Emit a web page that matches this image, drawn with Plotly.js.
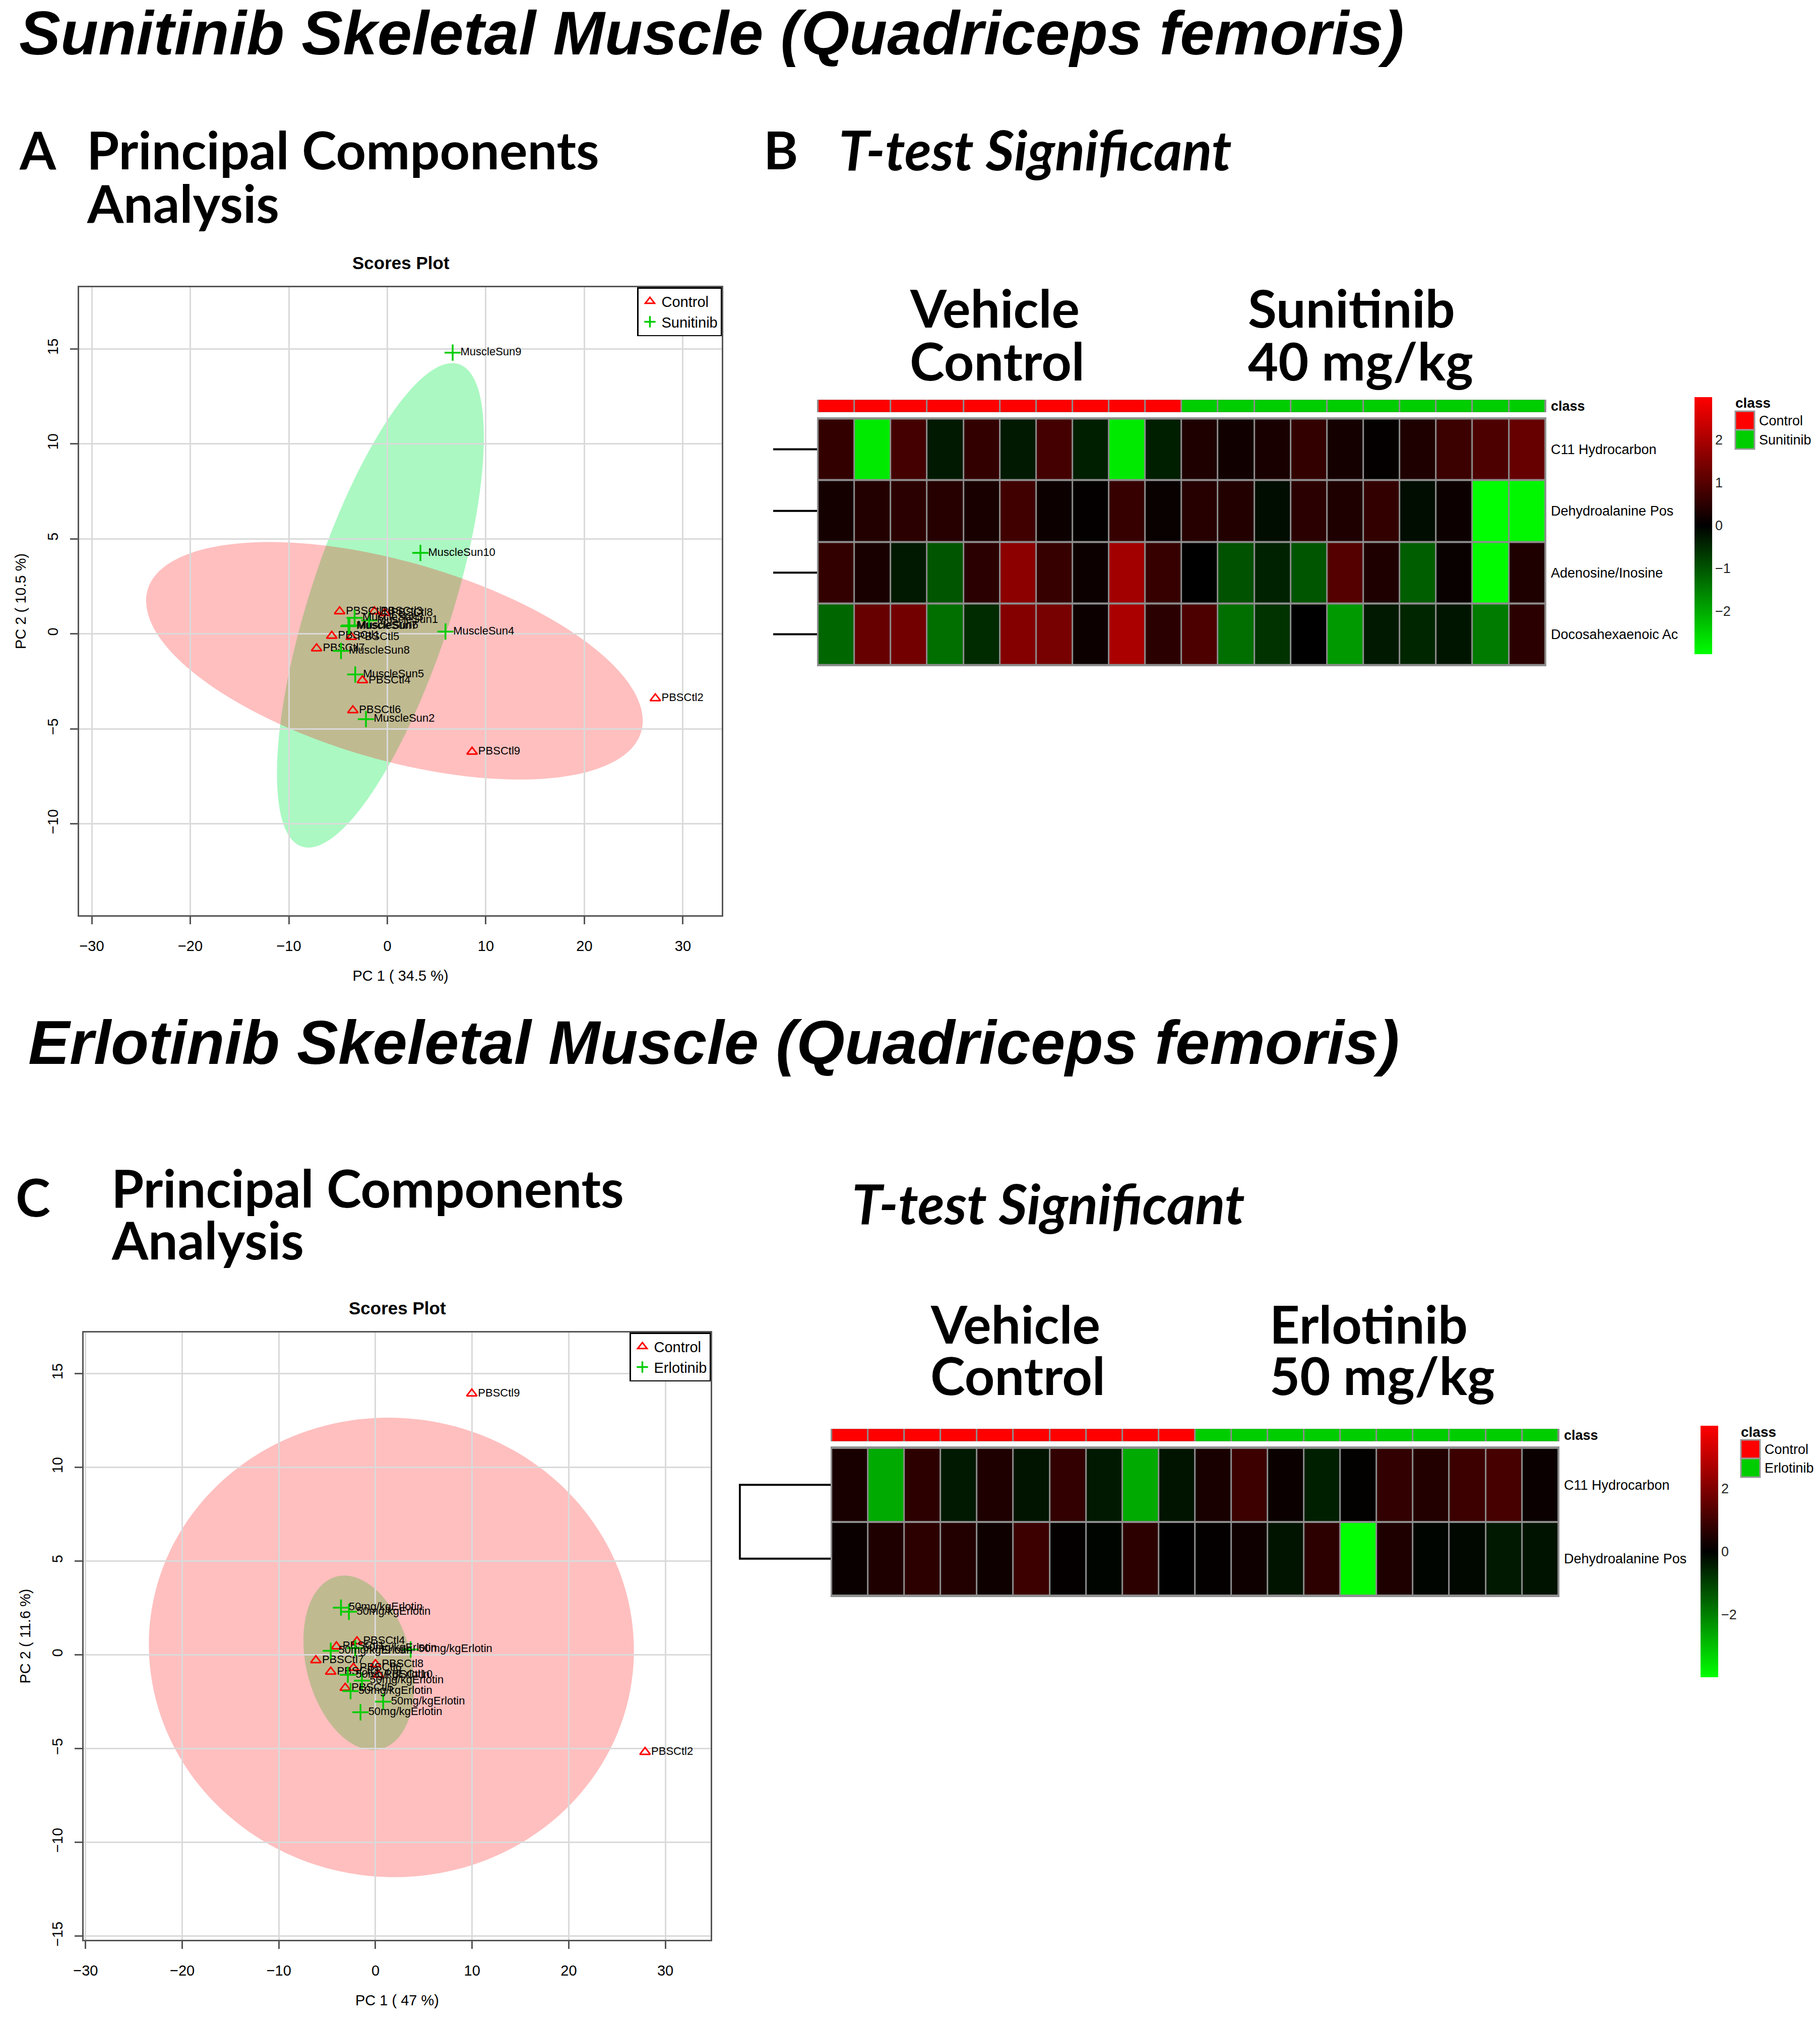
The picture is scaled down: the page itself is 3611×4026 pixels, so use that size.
<!DOCTYPE html>
<html><head><meta charset="utf-8">
<script src="https://cdn.plot.ly/plotly-3.0.1.min.js"></script>
<style>html,body{margin:0;padding:0;background:#fff}</style>
</head><body>
<div id="chart" style="width:3611px;height:4026px"></div>
<script>
// ---------------- DATA ----------------
// Panel A: Sunitinib PCA scores
const sunCtlNames = ['PBSCtl1','PBSCtl2','PBSCtl3','PBSCtl4','PBSCtl5','PBSCtl6','PBSCtl7','PBSCtl8','PBSCtl9','PBSCtl10'];
const sunCtlPC1 = [-5.64, 27.2, -1.31, -2.53, -3.66, -3.5, -7.18, -0.26, 8.6, -4.84];
const sunCtlPC2 = [-0.11, -3.4, 1.18, -2.45, -0.17, -4.03, -0.77, 1.09, -6.21, 1.18];
const sunTrtNames = ['MuscleSun1','MuscleSun2','MuscleSun3','MuscleSun4','MuscleSun5','MuscleSun6','MuscleSun7','MuscleSun8','MuscleSun9','MuscleSun10'];
const sunTrtPC1 = [-1.83, -2.17, -3.32, 5.9, -3.26, -3.84, -3.95, -4.7, 6.63, 3.36];
const sunTrtPC2 = [0.71, -4.49, 0.84, 0.12, -2.14, 0.44, 0.40, -0.9, 14.8, 4.26];
// confidence ellipses: [centerPC1, centerPC2, halfWidthPC1, halfHeightPC2, PC2 offset of rightmost point]
const sunEllipseCtl = [0.72, -1.42, 25.2, 6.25, -3.15];
const sunEllipseTrt = [-0.7, 1.5, 10.5, 12.75, 8.86];
const sunAxisTitles = ['PC 1 ( 34.5 %)', 'PC 2 ( 10.5 %)'];

// Panel C: Erlotinib PCA scores
const erlCtlNames = ['PBSCtl1','PBSCtl2','PBSCtl3','PBSCtl4','PBSCtl5','PBSCtl6','PBSCtl7','PBSCtl8','PBSCtl9','PBSCtl10'];
const erlCtlPC1 = [-4.04, 27.9, -4.63, -1.92, -3.13, -2.28, -6.17, 0.0, 9.97, 0.3];
const erlCtlPC2 = [0.45, -5.18, -0.9, 0.72, -1.76, -0.69, -0.29, -0.5, 13.93, -1.06];
const erlTrtNames = ['50mg/kgErlotin','50mg/kgErlotin','50mg/kgErlotin','50mg/kgErlotin','50mg/kgErlotin','50mg/kgErlotin','50mg/kgErlotin','50mg/kgErlotin','50mg/kgErlotin','50mg/kgErlotin'];
const erlTrtPC1 = [-3.57, -2.75, -4.63, -2.1, 3.64, -2.86, -1.4, -2.58, 0.8, -1.55];
const erlTrtPC2 = [2.52, 2.3, 0.22, 0.36, 0.29, -1.06, -1.37, -1.93, -2.49, -3.06];
const erlEllipseCtl = [1.65, 0.4, 25.1, 12.25, -0.15];
const erlEllipseTrt = [-1.73, -0.42, 5.73, 4.65, -1.2];
const erlAxisTitles = ['PC 1 ( 47 %)', 'PC 2 ( 11.6 %)'];

const pcaXTicks = [-30, -20, -10, 0, 10, 20, 30];
const sunYTicks = [-10, -5, 0, 5, 10, 15];
const erlYTicks = [-15, -10, -5, 0, 5, 10, 15];

// Panel B: Sunitinib heatmap (z-scores)
const sunClasses = ['Control','Control','Control','Control','Control','Control','Control','Control','Control','Control',
  'Sunitinib','Sunitinib','Sunitinib','Sunitinib','Sunitinib','Sunitinib','Sunitinib','Sunitinib','Sunitinib','Sunitinib'];
const sunMetabolites = ['C11 Hydrocarbon','Dehydroalanine Pos','Adenosine/Inosine','Docosahexaenoic Ac'];
const sunC11 = [0.6,-2.75,0.8,-0.3,0.6,-0.3,0.8,-0.35,-2.75,-0.35,0.35,0.2,0.3,0.6,0.25,0.05,0.35,0.7,0.9,1.2];
const sunDehydro = [0.25,0.4,0.5,0.45,0.3,0.75,0.15,0.05,0.65,0.1,0.45,0.4,-0.15,0.5,0.35,0.6,-0.15,0.15,-3.0,-2.9];
const sunAdeno = [0.6,0.3,-0.3,-1.0,0.5,1.65,0.65,0.15,1.9,0.65,0,-0.95,-0.4,-1.0,1.0,0.35,-1.1,0.1,-2.95,0.35];
const sunDHA = [-1.2,1.2,1.35,-1.3,-0.5,1.55,1.4,0.15,2.0,0.5,0.9,-1.3,-0.6,0,-1.8,-0.3,-0.45,-0.25,-1.45,0.5];
const sunScaleTicks = [-2, -1, 0, 1, 2];

// Panel D: Erlotinib heatmap (z-scores)
const erlClasses = ['Control','Control','Control','Control','Control','Control','Control','Control','Control','Control',
  'Erlotinib','Erlotinib','Erlotinib','Erlotinib','Erlotinib','Erlotinib','Erlotinib','Erlotinib','Erlotinib','Erlotinib'];
const erlMetabolites = ['C11 Hydrocarbon','Dehydroalanine Pos'];
const erlC11 = [0.39,-2.67,0.71,-0.39,0.47,-0.31,0.78,-0.39,-2.67,-0.31,0.39,0.94,0.16,-0.47,0.05,0.78,0.55,0.94,1.1,0.16];
const erlDehydro = [0.16,0.47,0.7,0.55,0.24,0.94,0.08,-0.08,0.7,0,0.08,0.24,-0.31,0.7,-4.0,0.47,-0.08,-0.12,-0.4,-0.3];
const erlScaleTicks = [-2, 0, 2];

// Row dendrograms: leaf rows and merge height (relative)
const sunDendroLeaves = [0, 1, 2, 3];
const erlDendroLeaves = [0, 1];
const erlDendroHeight = 1;

// ---------------- HELPERS ----------------
const W = 3611, H = 4026;
const fx = p => p / W;
const fy = p => 1 - p / H;
const FONT = 'Liberation Sans, Arial, Helvetica, sans-serif';
const CAL = 'Lato, Carlito, Calibri, sans-serif';
const RED = '#FF0000', GREEN = '#00CC00', CLASSGREEN = '#00CD00';

function ellipsePath(e) {
  const [cx, cy, rx, ry, dy] = e;
  const s = Math.sqrt(ry * ry - dy * dy);
  const k = 0.5523;
  const unit = [[1,0],[1,k],[k,1],[0,1],[-k,1],[-1,k],[-1,0],[-1,-k],[-k,-1],[0,-1],[k,-1],[1,-k],[1,0]];
  const m = unit.map(([u, v]) => [cx + rx * u, cy + dy * u + s * v]);
  let p = 'M' + m[0][0] + ',' + m[0][1];
  for (let i = 1; i < m.length; i += 3)
    p += ' C' + m[i].join(',') + ' ' + m[i+1].join(',') + ' ' + m[i+2].join(',');
  return p + ' Z';
}

function scoreTraces(ctlX, ctlY, ctlN, trtX, trtY, trtN, trtName, xa, ya, leg) {
  const tf = {family: FONT, size: 22, color: '#000'};
  return [
    {type: 'scatter', mode: 'markers+text', x: ctlX, y: ctlY, text: ctlN, textposition: 'middle right',
     textfont: tf, name: 'Control', xaxis: xa, yaxis: ya, legend: leg, cliponaxis: false,
     marker: {symbol: 'triangle-up-open', size: 18, color: RED, line: {width: 3, color: RED}}},
    {type: 'scatter', mode: 'markers+text', x: trtX, y: trtY, text: trtN, textposition: 'middle right',
     textfont: tf, name: trtName, xaxis: xa, yaxis: ya, legend: leg, cliponaxis: false,
     marker: {symbol: 'cross-thin-open', size: 23, color: GREEN, line: {width: 3.5, color: GREEN}}}
  ];
}

const heatScale = [[0, 'rgb(0,255,0)'], [0.5, 'rgb(0,0,0)'], [1, 'rgb(255,0,0)']];
const classScale = [[0, RED], [0.5, RED], [0.5, CLASSGREEN], [1, CLASSGREEN]];

function classTrace(classes, xa, ya) {
  return {type: 'heatmap', z: [classes.map(c => c === 'Control' ? 0 : 1)], x: classes.map((c, i) => i), y: [0],
    colorscale: classScale, zmin: 0, zmax: 1, showscale: false, xgap: 3, ygap: 0, xaxis: xa, yaxis: ya, hoverinfo: 'skip'};
}

function heatTrace(rows, lim, ticks, xa, ya, cbx, cby, cblen) {
  return {type: 'heatmap', z: rows, x: rows[0].map((v, i) => i), y: rows.map((r, i) => i),
    colorscale: heatScale, zmin: -lim, zmax: lim, xgap: 3, ygap: 4, xaxis: xa, yaxis: ya, hoverinfo: 'skip',
    colorbar: {x: fx(cbx), xanchor: 'left', xref: 'paper', y: fy(cby), yanchor: 'top', yref: 'paper',
      len: cblen, lenmode: 'pixels', thickness: 35, thicknessmode: 'pixels', xpad: 0, ypad: 0,
      outlinewidth: 0, tickvals: ticks, ticks: '', tickfont: {family: FONT, size: 27, color: '#222'}}};
}

// ---------------- TRACES ----------------
const traces = [
  ...scoreTraces(sunCtlPC1, sunCtlPC2, sunCtlNames, sunTrtPC1, sunTrtPC2, sunTrtNames, 'Sunitinib', 'x', 'y', 'legend'),
  ...scoreTraces(erlCtlPC1, erlCtlPC2, erlCtlNames, erlTrtPC1, erlTrtPC2, erlTrtNames, 'Erlotinib', 'x4', 'y4', 'legend2'),
  classTrace(sunClasses, 'x2', 'y2'),
  heatTrace([sunC11, sunDehydro, sunAdeno, sunDHA], 3, sunScaleTicks, 'x3', 'y3', 3362, 788, 510),
  classTrace(erlClasses, 'x5', 'y5'),
  heatTrace([erlC11, erlDehydro], 4, erlScaleTicks, 'x6', 'y6', 3374, 2829, 499),
  {type: 'scatter', mode: 'lines', xaxis: 'x7', yaxis: 'y7', showlegend: false, hoverinfo: 'skip',
   x: sunDendroLeaves.flatMap(() => [0, 1, null]), y: sunDendroLeaves.flatMap(l => [l, l, null]),
   line: {color: '#000', width: 4}},
  {type: 'scatter', mode: 'lines', xaxis: 'x8', yaxis: 'y8', showlegend: false, hoverinfo: 'skip',
   x: [0, erlDendroHeight, erlDendroHeight, 0], y: [erlDendroLeaves[0], erlDendroLeaves[0], erlDendroLeaves[1], erlDendroLeaves[1]],
   line: {color: '#000', width: 4}}
];

// ---------------- LAYOUT ----------------
function pcaX(dom, range, title, anchor) {
  return {domain: dom, range: range, anchor: anchor, tickvals: pcaXTicks, showgrid: true, gridcolor: '#dadada', gridwidth: 3,
    zeroline: false, showline: true, mirror: true, linecolor: '#555', linewidth: 3, ticks: 'outside', ticklen: 15,
    tickwidth: 3, tickcolor: '#555', tickfont: {family: FONT, size: 29, color: '#000'}, ticklabelstandoff: 18,
    title: {text: title, font: {family: FONT, size: 29, color: '#000'}, standoff: 34}};
}
function pcaY(dom, range, ticks, title, anchor) {
  return {domain: dom, range: range, anchor: anchor, tickvals: ticks, tickangle: -90, showgrid: true, gridcolor: '#dadada', gridwidth: 3,
    zeroline: false, showline: true, mirror: true, linecolor: '#555', linewidth: 3, ticks: 'outside', ticklen: 15,
    tickwidth: 3, tickcolor: '#555', tickfont: {family: FONT, size: 29, color: '#000'}, ticklabelstandoff: 12,
    title: {text: title, font: {family: FONT, size: 29, color: '#000'}, standoff: 30}};
}
const hidden = {visible: false, showgrid: false, zeroline: false};
function heatX(l, r, anchor) { return Object.assign({domain: [fx(l), fx(r)], range: [-0.53, 19.53], anchor: anchor}, hidden); }
function heatY(t, b, labels, anchor, bold) {
  return {domain: [fy(b), fy(t)], range: [labels.length - 0.5 + 0.02, -0.52], anchor: anchor, side: 'right',
    tickvals: labels.map((l, i) => i), ticktext: labels, ticks: '', showgrid: false, zeroline: false, showline: false,
    tickfont: {family: FONT, size: 27, color: '#000', weight: bold ? 'bold' : 'normal'}, ticklabelstandoff: 8};
}

const legendBase = {xref: 'paper', yref: 'paper', xanchor: 'right', yanchor: 'top', bgcolor: '#fff',
  bordercolor: '#000', borderwidth: 2.5, font: {family: FONT, size: 29, color: '#000'}, itemwidth: 36, tracegroupgap: 0};

function ann(text, xpx, basePx, size, family, extra) {
  return Object.assign({text: text, x: fx(xpx), y: fy(basePx + 0.215 * size + 2), xref: 'paper', yref: 'paper',
    xanchor: 'left', yanchor: 'bottom', showarrow: false,
    font: {family: family, size: size, color: '#000', weight: 'bold'}}, extra || {});
}
function annMid(text, xpx, ypx, size, weight, xanchor) {
  return {text: text, x: fx(xpx), y: fy(ypx), xref: 'paper', yref: 'paper', xanchor: xanchor || 'center', yanchor: 'middle',
    showarrow: false, font: {family: FONT, size: size, color: '#000', weight: weight || 'normal'}};
}
const TITLE = 123, PANEL = 104;
const italicBig = {font: {family: FONT, size: TITLE, color: '#000', weight: 'bold', style: 'italic'}};
const italicPanel = {font: {family: CAL, size: 109, color: '#000', weight: 'bold', style: 'italic'}};

const annotations = [
  ann('Sunitinib Skeletal Muscle (Quadriceps femoris)', 36, 108, TITLE, FONT, italicBig),
  ann('Erlotinib Skeletal Muscle (Quadriceps femoris)', 54, 2111, TITLE, FONT, italicBig),
  ann('A', 36, 336, PANEL, CAL),
  ann('Principal Components', 170, 336, PANEL, CAL),
  ann('Analysis', 170, 442, PANEL, CAL),
  ann('B', 1513, 336, PANEL, CAL),
  ann('T-test Significant', 1662, 338, 109, CAL, italicPanel),
  ann('Vehicle', 1803, 650, PANEL, CAL),
  ann('Control', 1803, 755, PANEL, CAL),
  ann('Sunitinib', 2474, 650, PANEL, CAL),
  ann('40 mg/kg', 2474, 755, PANEL, CAL),
  ann('C', 29, 2414, PANEL, CAL),
  ann('Principal Components', 219, 2396, PANEL, CAL),
  ann('Analysis', 219, 2499, PANEL, CAL),
  ann('T-test Significant', 1688, 2429, 109, CAL, italicPanel),
  ann('Vehicle', 1844, 2666, PANEL, CAL),
  ann('Control', 1844, 2768, PANEL, CAL),
  ann('Erlotinib', 2517, 2666, PANEL, CAL),
  ann('50 mg/kg', 2517, 2768, PANEL, CAL),
  annMid('Scores Plot', 795, 521, 35, 'bold'),
  annMid('Scores Plot', 788, 2595, 35, 'bold'),
  annMid('class', 3441, 800, 28, 'bold', 'left'),
  annMid('Control', 3488, 835, 27, 'normal', 'left'),
  annMid('Sunitinib', 3488, 873, 27, 'normal', 'left'),
  annMid('class', 3452, 2841, 28, 'bold', 'left'),
  annMid('Control', 3499, 2876, 27, 'normal', 'left'),
  annMid('Erlotinib', 3499, 2913, 27, 'normal', 'left')
];

function greyBack(xa, ya) {
  return {type: 'rect', xref: xa + ' domain', yref: ya + ' domain', x0: 0, x1: 1, y0: 0, y1: 1,
    fillcolor: '#8e8e8e', line: {width: 0}, layer: 'below'};
}
function swatch(x0, x1, y0, y1, color) {
  return {type: 'rect', xref: 'paper', yref: 'paper', x0: fx(x0), x1: fx(x1), y0: fy(y1), y1: fy(y0),
    fillcolor: color, line: {color: '#999', width: 3}};
}
const shapes = [
  {type: 'path', xref: 'x', yref: 'y', path: ellipsePath(sunEllipseTrt), fillcolor: 'rgba(0,235,70,0.33)', line: {width: 0}, layer: 'below'},
  {type: 'path', xref: 'x', yref: 'y', path: ellipsePath(sunEllipseCtl), fillcolor: 'rgba(255,0,0,0.25)', line: {width: 0}, layer: 'below'},
  {type: 'path', xref: 'x4', yref: 'y4', path: ellipsePath(erlEllipseTrt), fillcolor: 'rgba(0,235,70,0.33)', line: {width: 0}, layer: 'below'},
  {type: 'path', xref: 'x4', yref: 'y4', path: ellipsePath(erlEllipseCtl), fillcolor: 'rgba(255,0,0,0.25)', line: {width: 0}, layer: 'below'},
  greyBack('x2', 'y2'), greyBack('x3', 'y3'), greyBack('x5', 'y5'), greyBack('x6', 'y6'),
  swatch(3443, 3481, 816, 853, RED), swatch(3443, 3481, 853, 891, CLASSGREEN),
  swatch(3454, 3492, 2857, 2894, RED), swatch(3454, 3492, 2894, 2931, CLASSGREEN)
];

const layout = {
  width: W, height: H, margin: {l: 0, r: 0, t: 0, b: 0}, paper_bgcolor: '#fff', plot_bgcolor: '#fff',
  showlegend: true, hovermode: false, font: {family: FONT, color: '#000'},
  xaxis: pcaX([fx(157), fx(1432)], [-31.28, 33.94], sunAxisTitles[0], 'y'),
  yaxis: pcaY([fy(1816), fy(570)], [-14.81, 18.24], sunYTicks, sunAxisTitles[1], 'x'),
  xaxis4: pcaX([fx(166), fx(1410)], [-30.2, 34.69], erlAxisTitles[0], 'y4'),
  yaxis4: pcaY([fy(3849), fy(2644)], [-15.19, 17.19], erlYTicks, erlAxisTitles[1], 'x4'),
  xaxis2: heatX(1621, 3068, 'y2'),
  yaxis2: heatY(793, 818, ['class'], 'x2', true),
  xaxis3: heatX(1621, 3068, 'y3'),
  yaxis3: heatY(828, 1322, sunMetabolites, 'x3', false),
  xaxis5: heatX(1648, 3094, 'y5'),
  yaxis5: heatY(2835, 2860, ['class'], 'x5', true),
  xaxis6: heatX(1648, 3094, 'y6'),
  yaxis6: heatY(2870, 3169, erlMetabolites, 'x6', false),
  xaxis7: Object.assign({domain: [fx(1534), fx(1621)], range: [1, 0], anchor: 'y7'}, hidden),
  yaxis7: Object.assign({domain: [fy(1322), fy(828)], range: [3.52, -0.52], anchor: 'x7'}, hidden),
  xaxis8: Object.assign({domain: [fx(1466), fx(1648)], range: [1.01, 0], anchor: 'y8'}, hidden),
  yaxis8: Object.assign({domain: [fy(3169), fy(2870)], range: [1.52, -0.52], anchor: 'x8'}, hidden),
  legend: Object.assign({x: fx(1432), y: fy(570)}, legendBase),
  legend2: Object.assign({x: fx(1410), y: fy(2644)}, legendBase),
  annotations: annotations,
  shapes: shapes
};

Plotly.newPlot('chart', traces, layout, {displayModeBar: false, staticPlot: true});
</script>
</body></html>
